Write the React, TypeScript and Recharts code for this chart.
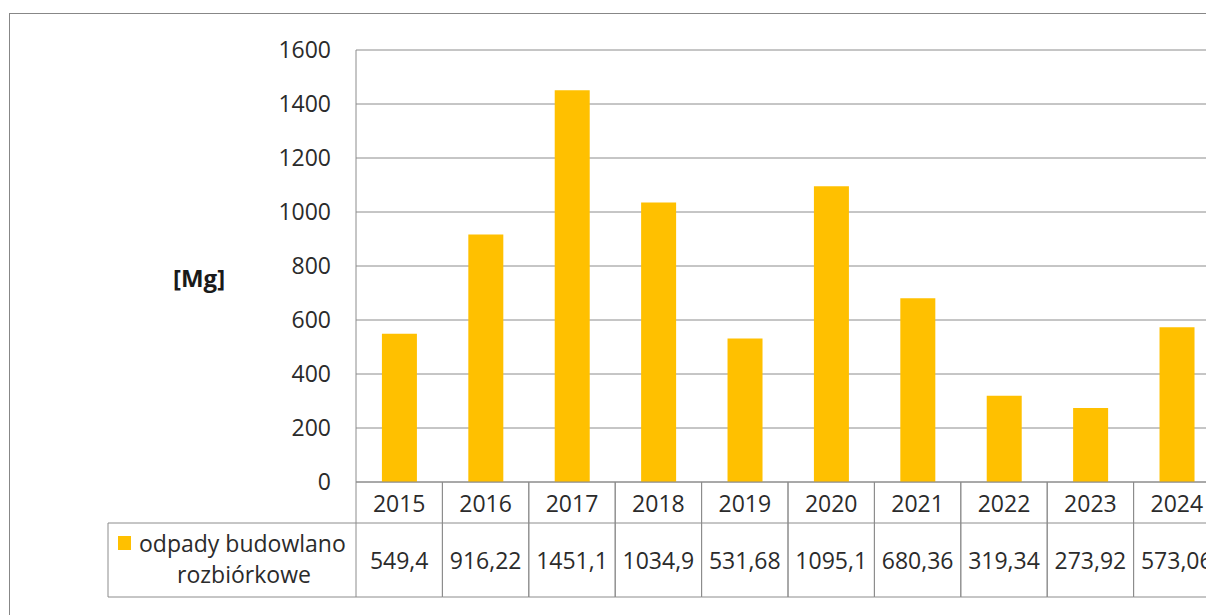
import { BarChart, Bar, XAxis, YAxis, CartesianGrid } from 'recharts'

const years = ['2015', '2016', '2017', '2018', '2019', '2020', '2021', '2022', '2023', '2024']
const values = [549.4, 916.22, 1451.1, 1034.9, 531.68, 1095.1, 680.36, 319.34, 273.92, 573.06]
const valueLabels = ['549,4', '916,22', '1451,1', '1034,9', '531,68', '1095,1', '680,36', '319,34', '273,92', '573,06']
const yTicks = [0, 200, 400, 600, 800, 1000, 1200, 1400, 1600]
const legendLines = ['odpady budowlano', 'rozbiórkowe']
const unitLabel = '[Mg]'

const data = years.map((year, i) => ({ year, value: values[i] }))

const FONT = '"Open Sans", sans-serif'
const TEXT = '#2b2b2b'
const LINE = '#8c8c8c'
const BAR = '#FFC000'

// x axis doubles as the Excel data table: year row + value row, with the legend cell on the left
function TableTick(props: any) {
  const { x, y, payload, width } = props
  const i = payload.index
  const band = width / years.length
  const left = x - band / 2
  const right = x + band / 2
  const split = y + 41
  const bottom = y + 115
  const legLeft = left - 248
  return (
    <g fontFamily={FONT} fontSize={23} fill={TEXT}>
      <line x1={right} y1={y} x2={right} y2={bottom} stroke={LINE} />
      <line x1={left} y1={y} x2={left} y2={bottom} stroke={LINE} />
      <line x1={left} y1={split} x2={right} y2={split} stroke={LINE} />
      <line x1={left} y1={bottom} x2={right} y2={bottom} stroke={LINE} />
      <text x={x} y={y + 21} textAnchor="middle" dominantBaseline="central" fill={TEXT}>{payload.value}</text>
      <text x={x} y={y + 78} textAnchor="middle" dominantBaseline="central" fill={TEXT}>{valueLabels[i]}</text>
      {i === 0 && (
        <g>
          <line x1={legLeft} y1={split} x2={left} y2={split} stroke={LINE} />
          <line x1={legLeft} y1={bottom} x2={left} y2={bottom} stroke={LINE} />
          <line x1={legLeft} y1={split} x2={legLeft} y2={bottom} stroke={LINE} />
          <rect x={legLeft + 10} y={split + 13} width={13} height={14} fill={BAR} />
          <text x={legLeft + 31} y={split + 20} dominantBaseline="central" fill={TEXT}>{legendLines[0]}</text>
          <text x={legLeft + 136} y={split + 51} textAnchor="middle" dominantBaseline="central" fill={TEXT}>{legendLines[1]}</text>
        </g>
      )}
    </g>
  )
}

export default function App() {
  return (
    <div style={{ position: 'absolute', left: 0, top: 0, width: 1206, height: 615, overflow: 'hidden', background: '#fff' }}>
      <div style={{ position: 'absolute', left: 9, top: 13, width: 1400, height: 800, border: '1px solid #878787' }} />
      <BarChart
        width={1240}
        height={615}
        data={data}
        margin={{ top: 50, right: 20, left: 0, bottom: 17 }}
        barCategoryGap="30%"
      >
        <CartesianGrid vertical={false} stroke={LINE} />
        <XAxis
          dataKey="year"
          height={116}
          interval={0}
          tickSize={0}
          tickMargin={0}
          tickLine={false}
          axisLine={{ stroke: LINE }}
          tick={<TableTick />}
        />
        <YAxis
          width={356}
          domain={[0, 1600]}
          ticks={yTicks}
          tickSize={0}
          tickMargin={25}
          tickLine={false}
          axisLine={{ stroke: LINE }}
          tick={{ fill: TEXT, fontSize: 23, fontFamily: FONT }}
          label={{ value: unitLabel, position: 'insideLeft', offset: 173, dy: 12, fill: '#1a1a1a', fontSize: 24, fontWeight: 'bold', fontFamily: FONT }}
        />
        <Bar dataKey="value" fill={BAR} isAnimationActive={false} />
      </BarChart>
    </div>
  )
}
